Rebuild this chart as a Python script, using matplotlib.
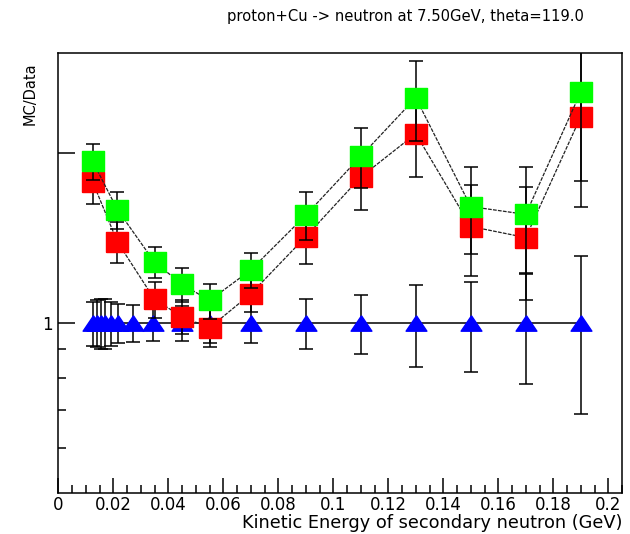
import matplotlib
matplotlib.use("Agg")
import matplotlib.pyplot as plt
from matplotlib.ticker import FixedLocator, FixedFormatter, NullFormatter

# data/data reference points (blue triangles)
x_data = [0.0126, 0.0141, 0.0155, 0.0170, 0.0192, 0.0217, 0.0272, 0.0345,
          0.045, 0.055, 0.07, 0.09, 0.11, 0.13, 0.15, 0.17, 0.19]
y_data = [1.0] * len(x_data)
err_data = [0.09, 0.095, 0.10, 0.10, 0.09, 0.08, 0.075, 0.07,
            0.07, 0.08, 0.08, 0.10, 0.12, 0.165, 0.18, 0.22, 0.31]

# MC/Data ratios
x_mc = [0.0125, 0.0215, 0.035, 0.045, 0.055, 0.07, 0.09, 0.11, 0.13, 0.15, 0.17, 0.19]
y_green = [1.93, 1.585, 1.28, 1.17, 1.095, 1.24, 1.55, 1.97, 2.50, 1.605, 1.555, 2.56]
err_green = [0.14, 0.12, 0.08, 0.08, 0.078, 0.09, 0.15, 0.24, 0.40, 0.28, 0.33, 0.78]
y_red = [1.775, 1.39, 1.10, 1.025, 0.98, 1.125, 1.42, 1.81, 2.16, 1.48, 1.415, 2.315]
err_red = [0.15, 0.115, 0.08, 0.07, 0.075, 0.08, 0.15, 0.23, 0.35, 0.27, 0.32, 0.71]

x_ticks = [0, 0.02, 0.04, 0.06, 0.08, 0.1, 0.12, 0.14, 0.16, 0.18, 0.2]
x_labels = ["0", "0.02", "0.04", "0.06", "0.08", "0.1", "0.12", "0.14", "0.16", "0.18", "0.2"]

plt.rcParams['font.family'] = ['DejaVu Sans']

fig = plt.figure(figsize=(6.3, 5.34), dpi=100)
ax = fig.add_axes([58.3 / 630, 1 - 493 / 534, (622 - 58.3) / 630, (493 - 53) / 534])

box = [(-1.15, -1), (1.15, -1), (1.15, 1), (-1.15, 1), (-1.15, -1)]
tri = [(0, 0.85), (-1.15, -0.85), (1.15, -0.85), (0, 0.85)]

ax.plot(x_data, y_data, color='black', lw=1.1, zorder=1)
ax.errorbar(x_data, y_data, yerr=err_data, fmt='none', ecolor='black',
            elinewidth=1.1, capsize=5, capthick=1.1, zorder=2)
ax.plot(x_data, y_data, ls='none', marker=tri, ms=15, color='#0000ff',
        mec='#0000ff', zorder=3)

ax.plot(x_mc, y_red, color='#222222', lw=0.9, ls=(0, (3, 1)), zorder=4)
ax.errorbar(x_mc, y_red, yerr=err_red, fmt='none', ecolor='black',
            elinewidth=1.1, capsize=5, capthick=1.1, zorder=5)
ax.plot(x_mc, y_red, ls='none', marker=box, ms=16, color='#ff0000',
        mec='#ff0000', zorder=6)

ax.plot(x_mc, y_green, color='#222222', lw=0.9, ls=(0, (3, 1)), zorder=7)
ax.errorbar(x_mc, y_green, yerr=err_green, fmt='none', ecolor='black',
            elinewidth=1.1, capsize=5, capthick=1.1, zorder=8)
ax.plot(x_mc, y_green, ls='none', marker=box, ms=16, color='#00ff00',
        mec='#00ff00', zorder=9)

ax.set_yscale('log')
ax.set_xlim(0, 0.205)
ax.set_ylim(0.5, 3.0)

ax.xaxis.set_major_locator(FixedLocator(x_ticks))
ax.xaxis.set_major_formatter(FixedFormatter(x_labels))
ax.xaxis.set_minor_locator(FixedLocator([i * 0.005 for i in range(42)]))
ax.yaxis.set_major_locator(FixedLocator([1, 2]))
ax.yaxis.set_major_formatter(FixedFormatter(["1", ""]))
ax.yaxis.set_minor_locator(FixedLocator([0.6, 0.7, 0.8, 0.9]))
ax.yaxis.set_minor_formatter(NullFormatter())

ax.tick_params(which='both', direction='in', top=False, right=False, width=1.1,
               labelsize=12, pad=2.5)
ax.tick_params(which='major', length=11)
ax.tick_params(which='minor', length=6)
ax.tick_params(axis='y', which='major', length=12.5, pad=4)
for s in ax.spines.values():
    s.set_linewidth(1.1)

fig.text(405 / 630, 1 - 17 / 534, "proton+Cu -> neutron at 7.50GeV, theta=119.0",
         ha='center', va='center', fontsize=10.6)
fig.text(30 / 630, 1 - 62 / 534, "MC/Data", rotation=90, ha='center', va='top',
         fontsize=10.5)
fig.text(622 / 630, 1 - 523 / 534, "Kinetic Energy of secondary neutron (GeV)",
         ha='right', va='center', fontsize=12.8)

fig.savefig("out.png", dpi=100)
